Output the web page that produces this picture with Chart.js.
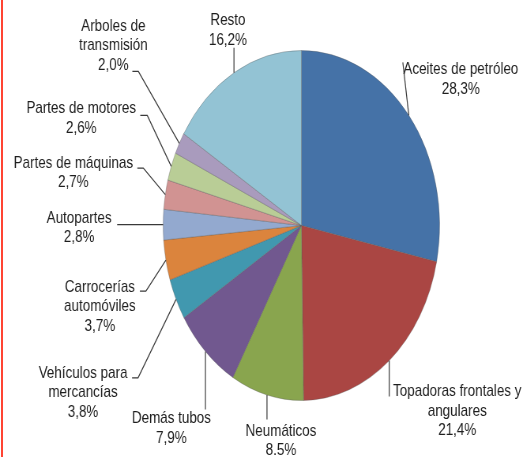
<!DOCTYPE html>
<html>
<head>
<meta charset="utf-8">
<script src="https://cdn.jsdelivr.net/npm/chart.js@4.4.1/dist/chart.umd.min.js"></script>
<style>
  html, body { margin: 0; padding: 0; background: #fff; }
  #wrap { position: relative; width: 526px; height: 457px; overflow: hidden; }
  #pie { position: absolute; left: 0; top: 0; transform: scaleX(0.79); transform-origin: 0 0; }
  #edge { position: absolute; left: 1px; top: 0; width: 2px; height: 457px; background: #f43; }
</style>
</head>
<body>
<div id="wrap">
  <canvas id="pie" width="666" height="457"></canvas>
  <div id="edge"></div>
</div>
<script>
// categories, clockwise from 12 o'clock
const categories = [
    'Aceites de petróleo',
    'Topadoras frontales y\nangulares',
    'Neumáticos',
    'Demás tubos',
    'Vehículos para\nmercancías',
    'Carrocerías\nautomóviles',
    'Autopartes',
    'Partes de máquinas',
    'Partes de motores',
    'Arboles de\ntransmisión',
    'Resto'
];
const shares = [28.3, 21.4, 8.5, 7.9, 3.8, 3.7, 2.8, 2.7, 2.6, 2.0, 16.2];
const shareText = ['28,3%', '21,4%', '8.5%', '7,9%', '3,8%', '3,7%', '2,8%', '2,7%', '2,6%', '2,0%', '16,2%'];

const colors = ['#4572A7', '#AA4643', '#89A54E', '#71588F', '#4198AF', '#DB843D',
                '#93A9CF', '#D19392', '#B9CD96', '#A99BBD', '#93C3D4'];

// label placement, in page px relative to the slice's outer mid point
// leader: bend points, text: [dx of block centre, dy of first line]
const placement = [
    { leader: [[-6, -53]], text: [52, -46] },
    { leader: [[0, 36]], text: [68, 31] },
    { leader: [[0, 24.5]], text: [14, 36] },
    { leader: [[0, 58]], text: [-34, 67] },
    { leader: [[-38, 78.5], [-44, 78.5]], text: [-93, 73.5] },
    { leader: [[-20, 31], [-26, 31]], text: [-66, 27] },
    { leader: [[-46, 0]], text: [-84, -6.5] },
    { leader: [[-22, -26.5], [-28, -26.5]], text: [-92, -31.5] },
    { leader: [[-24, -51], [-31, -51]], text: [-90, -58] },
    { leader: [[-41, -72], [-47, -72]], text: [-66, -117] },
    { leader: [[0, -25]], text: [-6, -52] }
];

const SX = 0.79;      // horizontal squeeze applied to the canvas
const LINE_H = 19.5;

const calloutPlugin = {
    id: 'callouts',
    afterDraw(chart) {
        const ctx = chart.ctx;
        const arcs = chart.getDatasetMeta(0).data;
        ctx.save();
        ctx.font = '17px "Liberation Sans", Arial, sans-serif';
        ctx.textAlign = 'center';
        ctx.textBaseline = 'middle';
        arcs.forEach((arc, i) => {
            const p = arc.getProps(['x', 'y', 'startAngle', 'endAngle', 'outerRadius'], true);
            const mid = (p.startAngle + p.endAngle) / 2;
            const ax = p.x + p.outerRadius * Math.cos(mid);
            const ay = p.y + p.outerRadius * Math.sin(mid);
            const pl = placement[i];

            ctx.strokeStyle = '#3a3a3a';
            ctx.lineWidth = 1.2;
            ctx.beginPath();
            ctx.moveTo(ax, ay);
            pl.leader.forEach(pt => ctx.lineTo(ax + pt[0] / SX, ay + pt[1]));
            ctx.stroke();

            const lines = categories[i].split('\n').concat([shareText[i]]);
            ctx.fillStyle = '#1e1e1e';
            lines.forEach((txt, k) => {
                ctx.fillText(txt, ax + pl.text[0] / SX, ay + pl.text[1] + k * LINE_H);
            });
        });
        ctx.restore();
    }
};

const pieCtx = document.getElementById('pie').getContext('2d');
new Chart(pieCtx, {
    type: 'pie',
    data: {
        labels: categories,
        datasets: [{
            data: shares,
            backgroundColor: colors,
            borderColor: 'rgba(90, 90, 90, 0.35)',
            borderWidth: 1
        }]
    },
    options: {
        responsive: false,
        animation: false,
        devicePixelRatio: 1,
        layout: { padding: { left: 206, right: 109, top: 50, bottom: 56 } },
        plugins: {
            legend: { display: false },
            tooltip: { enabled: false }
        }
    },
    plugins: [calloutPlugin]
});
</script>
</body>
</html>
